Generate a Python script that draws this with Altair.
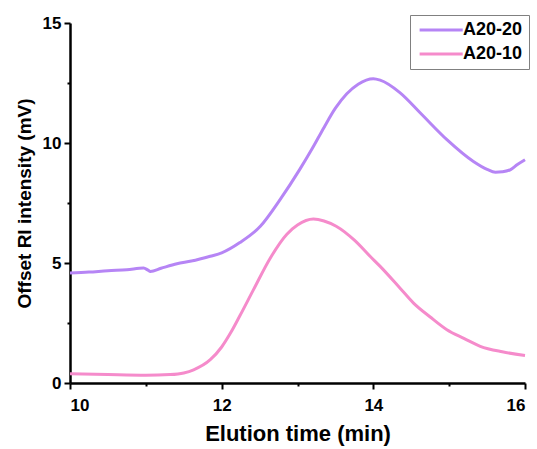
import altair as alt
import pandas as pd

# A20-20 series
x_a2020 = [10.0, 10.25, 10.5, 10.75, 10.97, 11.03, 11.06, 11.2, 11.41, 11.6, 11.85, 12.0,
           12.24, 12.51, 12.77, 13.03, 13.2, 13.35, 13.5, 13.65, 13.8, 14.0, 14.09, 14.35,
           14.62, 14.97, 15.32, 15.5, 15.61, 15.7, 15.81, 15.9, 16.0]
y_a2020 = [4.58, 4.62, 4.68, 4.72, 4.79, 4.70, 4.65, 4.78, 4.97, 5.08, 5.28, 5.42,
           5.85, 6.53, 7.64, 8.9, 9.8, 10.65, 11.45, 12.05, 12.45, 12.68, 12.62, 12.1,
           11.25, 10.14, 9.23, 8.9, 8.78, 8.8, 8.89, 9.1, 9.3]

# A20-10 series
x_a2010 = [10.0, 10.5, 11.0, 11.32, 11.5, 11.63, 11.85, 12.0, 12.12, 12.24, 12.42, 12.64,
           12.86, 13.0, 13.21, 13.35, 13.51, 13.75, 13.96, 14.09, 14.35, 14.53, 14.75,
           14.97, 15.2, 15.41, 15.7, 16.0]
y_a2010 = [0.39, 0.35, 0.32, 0.35, 0.42, 0.55, 0.97, 1.5, 2.1, 2.8, 3.89, 5.2,
           6.2, 6.58, 6.83, 6.75, 6.53, 5.95, 5.27, 4.86, 3.96, 3.33, 2.75,
           2.22, 1.85, 1.53, 1.3, 1.15]

series_names = ["A20-20", "A20-10"]
series_colors = ["#B685F5", "#F58BCB"]

x_ticks = [10, 11, 12, 13, 14, 15, 16]
y_ticks = [0, 2.5, 5, 7.5, 10, 12.5, 15]

df = pd.concat([
    pd.DataFrame({"t": x_a2020, "v": y_a2020, "s": series_names[0]}),
    pd.DataFrame({"t": x_a2010, "v": y_a2010, "s": series_names[1]}),
])

FONT = "Liberation Sans"

chart = alt.Chart(df).mark_line(strokeWidth=3, interpolate="monotone").encode(
    x=alt.X("t:Q", title="Elution time (min)",
            scale=alt.Scale(domain=[10, 16], nice=False, zero=False),
            axis=alt.Axis(values=x_ticks, grid=False,
                          labelExpr="datum.value % 2 == 0 ? datum.label : ''",
                          tickSize={"condition": {"test": "datum.value % 2 == 0", "value": 6}, "value": 3},
                          tickWidth=2, tickColor="black", domainColor="black", domainWidth=2.5,
                          labelFont=FONT, labelFontSize=17, labelFontWeight="bold", labelColor="black",
                          labelPadding=8, titleFont=FONT, titleFontSize=22, titleFontWeight="bold",
                          titleColor="black", titlePadding=10)),
    y=alt.Y("v:Q", title="Offset RI intensity (mV)",
            scale=alt.Scale(domain=[0, 15], nice=False),
            axis=alt.Axis(values=y_ticks, grid=False,
                          labelExpr="datum.value % 5 == 0 ? datum.label : ''",
                          tickSize={"condition": {"test": "datum.value % 5 == 0", "value": 6}, "value": 3},
                          tickWidth=2, tickColor="black", domainColor="black", domainWidth=2.5,
                          labelFont=FONT, labelFontSize=17, labelFontWeight="bold", labelColor="black",
                          labelPadding=3, titleFont=FONT, titleFontSize=19, titleFontWeight="bold",
                          titleColor="black", titlePadding=8)),
    color=alt.Color("s:N", scale=alt.Scale(domain=series_names, range=series_colors),
                    sort=series_names,
                    legend=alt.Legend(title=None, orient="none", legendX=340, legendY=-8,
                                      symbolType="M-1,0H7", symbolSize=116, symbolStrokeWidth=3,
                                      labelFont=FONT, labelFontSize=18, labelFontWeight="bold",
                                      labelColor="black", labelOffset=29, padding=6,
                                      strokeColor="#808080", fillColor="white", rowPadding=6)),
).properties(
    width=455, height=360,
    padding={"left": 70, "top": 23, "right": 12, "bottom": 66},
    autosize=alt.AutoSizeParams(type="none"),
).configure_view(stroke=None)

chart.save("out.html", embed_options={"renderer": "svg", "actions": False})
